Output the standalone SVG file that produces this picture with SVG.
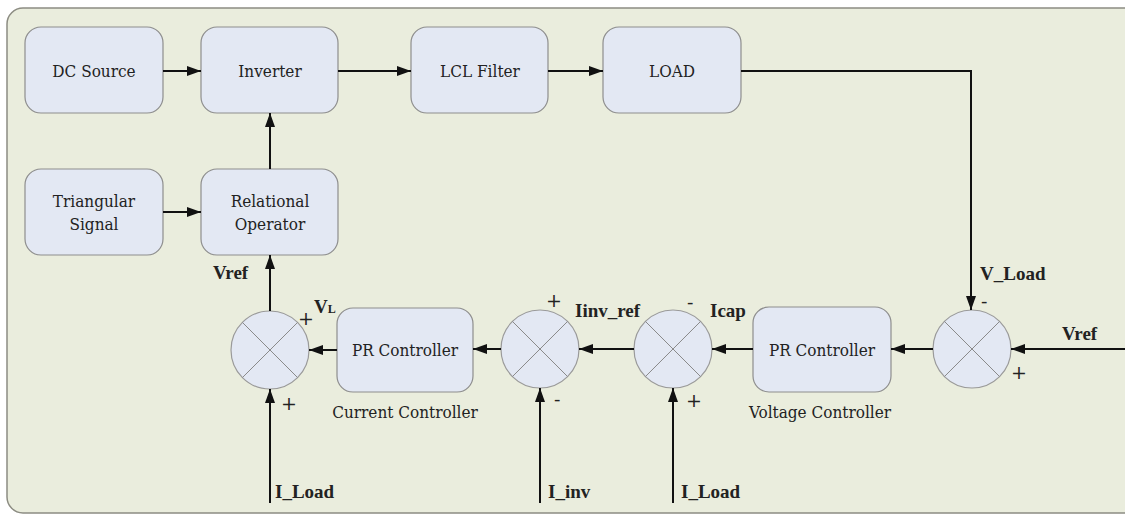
<svg xmlns="http://www.w3.org/2000/svg" width="1125" height="516" viewBox="0 0 1125 516">
<defs>
<marker id="ah" markerUnits="userSpaceOnUse" markerWidth="14" markerHeight="10" refX="14" refY="5" orient="auto">
<path d="M0,0 L14,5 L0,10 z" fill="#111"/>
</marker>
</defs>
<style>
.bg{fill:#eaeddd;stroke:#8c8c82;stroke-width:1.5}
.box{fill:#e3e8f3;stroke:#8e8e8e;stroke-width:1.2}
.sum{fill:#e3e8f3;stroke:#9a9a9a;stroke-width:1.2}
.x{stroke:#8a8a8a;stroke-width:1}
text{font-family:"DejaVu Serif","Liberation Serif",serif;font-size:17px;font-stretch:condensed;fill:#222}
.c{text-anchor:middle}
.pm{font-size:19px;font-stretch:normal}
.b{font-family:"Liberation Serif","DejaVu Serif",serif;font-size:19px;font-weight:bold;font-stretch:normal}
.w{stroke:#111;stroke-width:2;fill:none;marker-end:url(#ah)}
</style>
<rect class="bg" x="7" y="8" width="1135" height="505" rx="16"/>

<g id="dc_source"><rect class="box" x="25" y="27" width="138" height="86" rx="16"/><text class="c" x="94" y="77">DC Source</text></g>
<g id="inverter"><rect class="box" x="201" y="27" width="137" height="86" rx="16"/><text class="c" x="270" y="77">Inverter</text></g>
<g id="lcl_filter"><rect class="box" x="411" y="27" width="137" height="86" rx="16"/><text class="c" x="480" y="77">LCL Filter</text></g>
<g id="load"><rect class="box" x="603" y="27" width="138" height="86" rx="16"/><text class="c" x="672" y="77">LOAD</text></g>
<g id="triangular_signal"><rect class="box" x="25" y="169" width="138" height="86" rx="16"/><text class="c" x="94" y="207">Triangular</text><text class="c" x="94" y="230">Signal</text></g>
<g id="relational_operator"><rect class="box" x="201" y="169" width="137" height="86" rx="16"/><text class="c" x="270" y="207">Relational</text><text class="c" x="270" y="230">Operator</text></g>
<g id="pr_current"><rect class="box" x="337" y="308" width="136" height="84" rx="16"/><text class="c" x="405" y="356">PR Controller</text><text class="c" x="405" y="418">Current Controller</text></g>
<g id="pr_voltage"><rect class="box" x="753" y="307" width="138" height="85" rx="16"/><text class="c" x="822" y="356">PR Controller</text><text class="c" x="820" y="418">Voltage Controller</text></g>

<g id="sum_vl"><circle class="sum" cx="270" cy="350" r="39"/><line class="x" x1="242.4" y1="322.4" x2="297.6" y2="377.6"/><line class="x" x1="297.6" y1="322.4" x2="242.4" y2="377.6"/></g>
<g id="sum_iinv"><circle class="sum" cx="540" cy="349" r="39"/><line class="x" x1="512.4" y1="321.4" x2="567.6" y2="376.6"/><line class="x" x1="567.6" y1="321.4" x2="512.4" y2="376.6"/></g>
<g id="sum_icap"><circle class="sum" cx="673" cy="349" r="39"/><line class="x" x1="645.4" y1="321.4" x2="700.6" y2="376.6"/><line class="x" x1="700.6" y1="321.4" x2="645.4" y2="376.6"/></g>
<g id="sum_v"><circle class="sum" cx="972" cy="349" r="39"/><line class="x" x1="944.4" y1="321.4" x2="999.6" y2="376.6"/><line class="x" x1="999.6" y1="321.4" x2="944.4" y2="376.6"/></g>

<g id="connectors">
<line class="w" x1="163" y1="71" x2="201" y2="71"/>
<line class="w" x1="338" y1="71" x2="411" y2="71"/>
<line class="w" x1="548" y1="71" x2="603" y2="71"/>
<polyline class="w" points="741,71 971,71 971,310"/>
<line class="w" x1="163" y1="212" x2="201" y2="212"/>
<line class="w" x1="270" y1="169" x2="270" y2="113"/>
<line class="w" x1="270" y1="311" x2="270" y2="255"/>
<line class="w" x1="337" y1="350" x2="309" y2="350"/>
<line class="w" x1="270" y1="503" x2="270" y2="389"/>
<line class="w" x1="501" y1="349" x2="473" y2="349"/>
<line class="w" x1="540" y1="503" x2="540" y2="388"/>
<line class="w" x1="634" y1="349" x2="579" y2="349"/>
<line class="w" x1="673" y1="503" x2="673" y2="388"/>
<line class="w" x1="753" y1="349" x2="712" y2="349"/>
<line class="w" x1="933" y1="349" x2="891" y2="349"/>
<line class="w" x1="1125" y1="349" x2="1011" y2="349"/>
</g>

<g id="labels">
<text class="b" x="213" y="279">Vref</text>
<text class="pm" x="298" y="325">+</text>
<text class="b" x="314" y="313">V<tspan font-size="12">L</tspan></text>
<text class="pm" x="281" y="410">+</text>
<text class="b" x="275" y="498">I_Load</text>
<text class="pm" x="546" y="307">+</text>
<text class="b" x="575" y="317">Iinv_ref</text>
<text class="pm" x="554" y="406">-</text>
<text class="b" x="548" y="498">I_inv</text>
<text class="pm" x="687" y="309">-</text>
<text class="b" x="710" y="317">Icap</text>
<text class="pm" x="686" y="407">+</text>
<text class="b" x="681" y="498">I_Load</text>
<text class="b" x="980" y="280">V_Load</text>
<text class="pm" x="981" y="308">-</text>
<text class="b" x="1062" y="340">Vref</text>
<text class="pm" x="1011" y="379">+</text>
</g>
</svg>
